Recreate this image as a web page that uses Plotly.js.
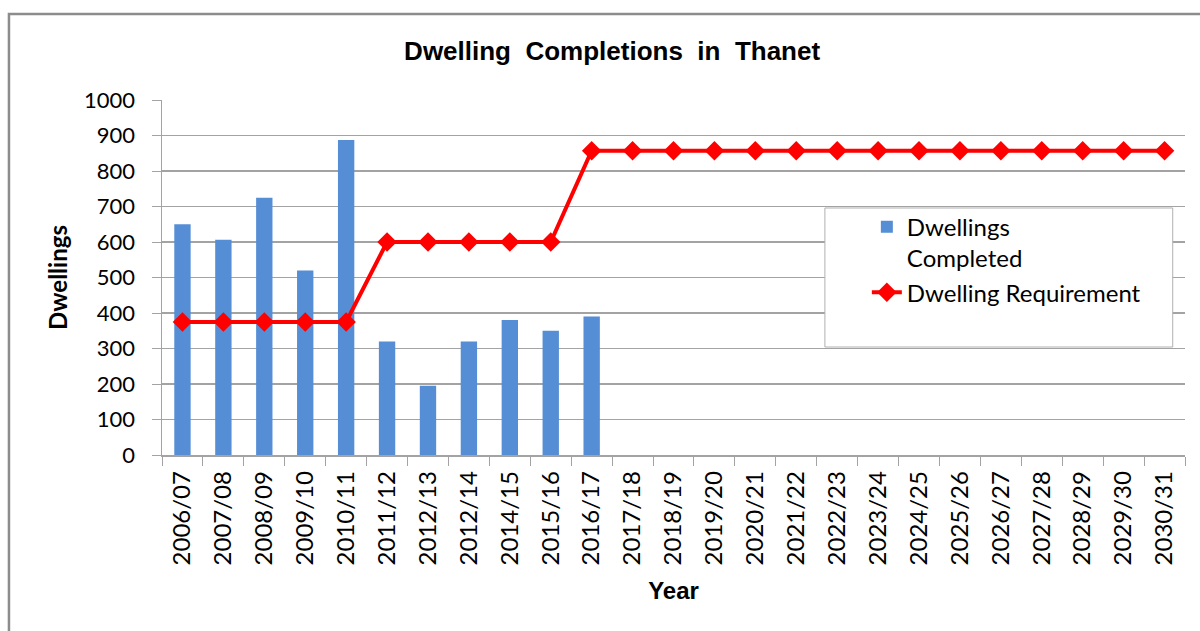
<!DOCTYPE html>
<html>
<head>
<meta charset="utf-8">
<script src="https://cdn.plot.ly/plotly-3.0.1.min.js"></script>
<style>
  html, body { margin: 0; padding: 0; background: #fff; }
  #chart { width: 1200px; height: 631px; }
</style>
</head>
<body>
<div id="chart"></div>
<script>
// Financial years on the category axis (labels as published)
const years = [
  '2006/07', '2007/08', '2008/09', '2009/10', '2010/11', '2011/12',
  '2012/13', '2012/14', '2014/15', '2015/16', '2016/17', '2017/18',
  '2018/19', '2019/20', '2020/21', '2021/22', '2022/23', '2023/24',
  '2024/25', '2025/26', '2026/27', '2027/28', '2028/29', '2029/30',
  '2030/31'
];

// Net dwellings completed each year (recorded years only)
const completed = [
  650, 606, 725, 520, 887, 320, 195, 320, 380, 350, 390,
  null, null, null, null, null, null, null, null, null, null, null, null, null, null
];

// Annual dwelling requirement
const requirement = [
  375, 375, 375, 375, 375,
  600, 600, 600, 600, 600,
  857, 857, 857, 857, 857, 857, 857, 857, 857, 857, 857, 857, 857, 857, 857
];

const yTicks = [0, 100, 200, 300, 400, 500, 600, 700, 800, 900, 1000];

const bodyFont = 'Lato, Carlito, Calibri, "Open Sans", sans-serif';
const headFont = '"Liberation Sans", Arial, sans-serif';
const gridGrey = '#a3a3a3';
const gap = '\u00A0 ';

const traces = [
  {
    type: 'bar',
    name: 'Dwellings<br>Completed',
    x: years,
    y: completed,
    marker: { color: '#558ED5', line: { width: 0 } },
    hoverinfo: 'x+y'
  },
  {
    type: 'scatter',
    mode: 'lines+markers',
    name: 'Dwelling Requirement',
    x: years,
    y: requirement,
    line: { color: '#FF0000', width: 4 },
    marker: { symbol: 'diamond', size: 15, color: '#FF0000' },
    hoverinfo: 'x+y'
  }
];

const layout = {
  width: 1200,
  height: 631,
  margin: { l: 162, r: 15, t: 100, b: 176, pad: 0 },
  paper_bgcolor: '#ffffff',
  plot_bgcolor: '#ffffff',
  bargap: 0.6,
  showlegend: true,
  title: {
    text: 'Dwelling' + gap + 'Completions' + gap + 'in' + gap + 'Thanet',
    font: { family: headFont, size: 26, color: '#000', weight: 'bold' },
    xref: 'paper', x: 0.44, xanchor: 'center',
    yref: 'container', y: 0.919, yanchor: 'middle'
  },
  xaxis: {
    type: 'category',
    categoryorder: 'array',
    categoryarray: years,
    range: [-0.5, years.length - 0.5],
    tickangle: -90,
    tickfont: { family: bodyFont, size: 24, color: '#000' },
    ticks: 'outside',
    ticklen: 9,
    tickcolor: gridGrey,
    tickson: 'boundaries',
    ticklabelstandoff: 5,
    showline: true,
    linecolor: gridGrey,
    linewidth: 1.5,
    showgrid: false,
    zeroline: false,
    title: {
      text: 'Year',
      font: { family: headFont, size: 24, color: '#000', weight: 'bold' },
      standoff: 17
    }
  },
  yaxis: {
    range: [0, 1000],
    tickvals: yTicks,
    ticktext: yTicks.map(String),
    tickfont: { family: bodyFont, size: 22, color: '#000' },
    ticks: 'outside',
    ticklen: 9,
    tickcolor: gridGrey,
    ticklabelstandoff: 12,
    showline: true,
    linecolor: gridGrey,
    linewidth: 1.5,
    showgrid: true,
    gridcolor: gridGrey,
    gridwidth: 1.2,
    zeroline: false,
    title: {
      text: 'Dwellings',
      font: { family: bodyFont, size: 24, color: '#000', weight: 'bold' },
      standoff: 9
    }
  },
  legend: {
    x: 0.689, xanchor: 'left',
    y: 0.705, yanchor: 'top',
    bgcolor: 'rgba(0,0,0,0)',
    borderwidth: 0,
    valign: 'top',
    itemwidth: 30,
    font: { family: bodyFont, size: 24, color: '#000' }
  },
  shapes: [
    // outer chart frame
    {
      type: 'rect', xref: 'paper', yref: 'paper',
      x0: -0.1496, x1: 1.05, y0: -0.6, y1: 1.2423,
      line: { color: '#8c8c8c', width: 2.5 },
      fillcolor: 'rgba(0,0,0,0)', layer: 'below'
    },
    // legend panel
    {
      type: 'rect', xref: 'paper', yref: 'paper',
      x0: 0.648, x1: 0.988, y0: 0.3042, y1: 0.6958,
      line: { color: '#b0b0b0', width: 1 },
      fillcolor: '#ffffff', layer: 'above'
    }
  ]
};

Plotly.newPlot('chart', traces, layout, { displayModeBar: false, staticPlot: true });
</script>
</body>
</html>
